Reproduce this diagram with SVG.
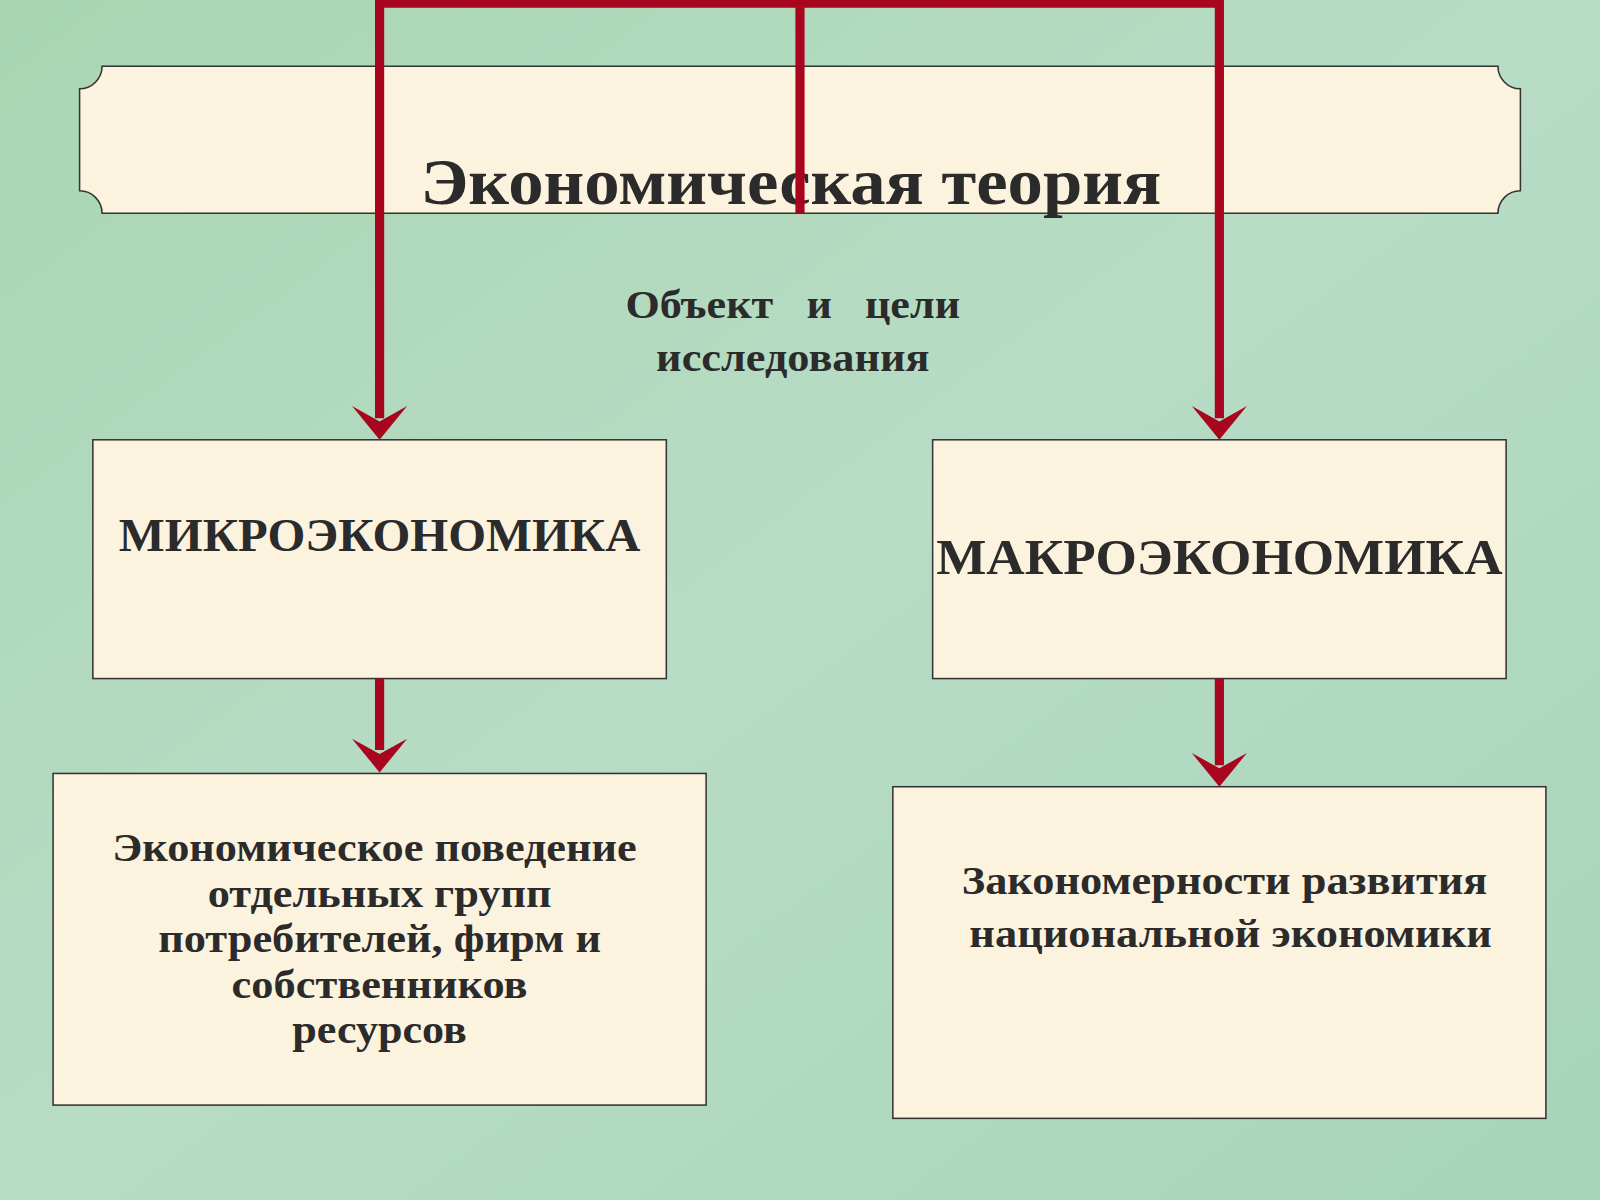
<svg xmlns="http://www.w3.org/2000/svg" width="1600" height="1200" viewBox="0 0 1600 1200">
<defs>
<style>
.box{fill:#fcf3df;stroke:#333;stroke-width:1.5}
.t{font-family:"Liberation Serif",serif;font-weight:bold;fill:#2b2b2b;text-anchor:middle}
.c{stroke:#a8061e;stroke-width:9;fill:none}
.ah{fill:#a8061e}
</style>
<linearGradient id="bg" x1="0" y1="0" x2="1" y2="1">
<stop offset="0" stop-color="#a9d6b1"/><stop offset="0.5" stop-color="#b8dcc6"/><stop offset="1" stop-color="#a7d4ba"/>
</linearGradient>
</defs>
<rect width="1600" height="1200" fill="url(#bg)"/>
<g transform="scale(1.0204)">
<g id="title">
<path class="box" d="M100,65 H1468 A22,22 0 0 0 1490,87 V187 A22,22 0 0 0 1468,209 H100 A22,22 0 0 0 78,187 V87 A22,22 0 0 0 100,65 Z"/>
<text class="t" x="775" y="200" font-size="64" textLength="726" lengthAdjust="spacingAndGlyphs">Экономическая теория</text>
</g>
<g id="label">
<text class="t" x="777" y="312" font-size="39" textLength="328" lengthAdjust="spacingAndGlyphs" xml:space="preserve">Объект   и   цели</text>
<text class="t" x="777" y="364" font-size="39" textLength="268" lengthAdjust="spacingAndGlyphs">исследования</text>
</g>
<g id="micro"><rect class="box" x="91" y="431" width="562" height="234"/>
<text class="t" x="372" y="540" font-size="46" textLength="511" lengthAdjust="spacingAndGlyphs">МИКРОЭКОНОМИКА</text></g>
<g id="macro"><rect class="box" x="914" y="431" width="562" height="234"/>
<text class="t" x="1195" y="563" font-size="50" textLength="555" lengthAdjust="spacingAndGlyphs">МАКРОЭКОНОМИКА</text></g>
<g id="microdesc"><rect class="box" x="52" y="758" width="640" height="325"/>
<text class="t" font-size="39" x="367" y="844" textLength="514" lengthAdjust="spacingAndGlyphs">Экономическое поведение</text>
<text class="t" font-size="39" x="372" y="889" textLength="337" lengthAdjust="spacingAndGlyphs">отдельных групп</text>
<text class="t" font-size="39" x="372" y="933" textLength="434" lengthAdjust="spacingAndGlyphs">потребителей, фирм и</text>
<text class="t" font-size="39" x="372" y="978" textLength="290" lengthAdjust="spacingAndGlyphs">собственников</text>
<text class="t" font-size="39" x="372" y="1022" textLength="171" lengthAdjust="spacingAndGlyphs">ресурсов</text></g>
<g id="macrodesc"><rect class="box" x="875" y="771" width="640" height="325"/>
<text class="t" font-size="39" x="1200" y="876" textLength="515" lengthAdjust="spacingAndGlyphs">Закономерности развития</text>
<text class="t" font-size="39" x="1206" y="928" textLength="512" lengthAdjust="spacingAndGlyphs">национальной экономики</text></g>
<g id="connectors">
<path class="c" d="M372,0 V410 M1195,0 V410 M784,0 V209 M368,3 H1199 M372,665 V735 M1195,665 V750"/>
<path class="ah" d="M345,398 L372,413 L399,398 L372,431 Z"/>
<path class="ah" d="M1168,398 L1195,413 L1222,398 L1195,431 Z"/>
<path class="ah" d="M345,724 L372,739 L399,724 L372,757 Z"/>
<path class="ah" d="M1168,738 L1195,753 L1222,738 L1195,771 Z"/>
</g>
</g>
</svg>
